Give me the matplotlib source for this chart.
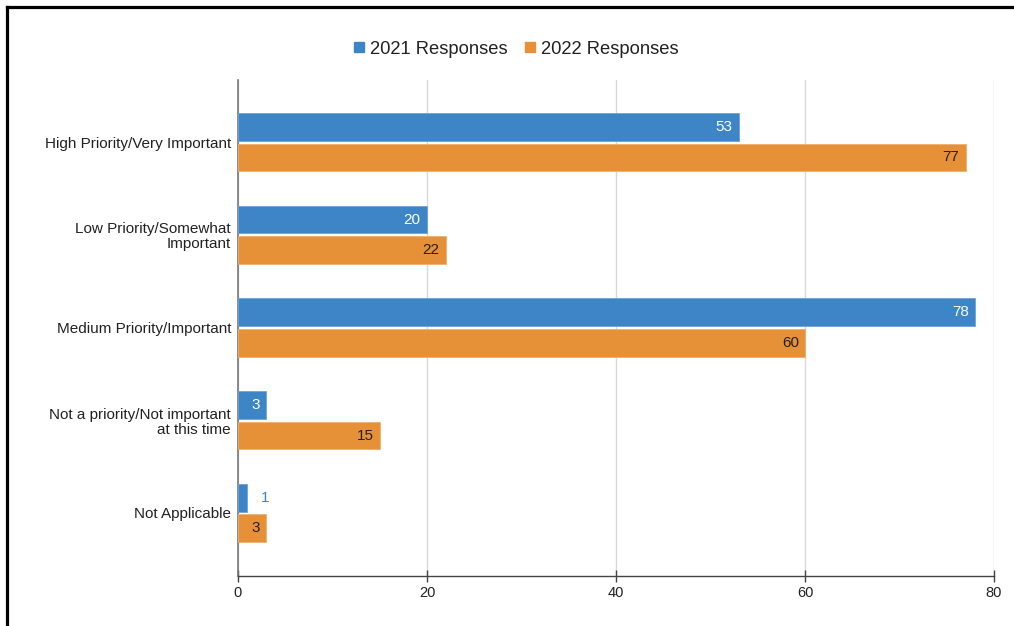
import matplotlib
matplotlib.use("Agg")
import matplotlib.pyplot as plt
from matplotlib.lines import Line2D
import numpy as np

categories = ["High Priority/Very Important",
              "Low Priority/Somewhat\nImportant",
              "Medium Priority/Important",
              "Not a priority/Not important\nat this time",
              "Not Applicable"]
series_names = ["2021 Responses", "2022 Responses"]
values_2021 = [53, 20, 78, 3, 1]
values_2022 = [77, 22, 60, 15, 3]
x_ticks = [0, 20, 40, 60, 80]

BLUE = "#3d85c6"
ORANGE = "#e69138"

plt.rcParams['font.family'] = ['Liberation Sans', 'DejaVu Sans']

W, H = 1014, 626
fig = plt.figure(figsize=(W / 100, H / 100), dpi=100)
ax = fig.add_axes([238 / W, 1 - 576 / H, (994 - 238) / W, (576 - 80) / H])

y = np.arange(len(categories))
off = 0.165
bh = 0.30
b1 = ax.barh(y - off, values_2021, height=bh, color=BLUE, edgecolor="#6fa3d6", linewidth=0.6, zorder=3)
b2 = ax.barh(y + off, values_2022, height=bh, color=ORANGE, edgecolor="#efb070", linewidth=0.6, zorder=3)

for rect, v in zip(b1, values_2021):
    yc = rect.get_y() + rect.get_height() / 2
    if v >= 3:
        ax.annotate(str(v), (v, yc), xytext=(-4.5, 0), textcoords="offset points",
                    ha="right", va="center", color="white", fontsize=11, zorder=4)
    else:
        ax.annotate(str(v), (v, yc), xytext=(10, 0), textcoords="offset points",
                    ha="left", va="center", color=BLUE, fontsize=11, zorder=4)
for rect, v in zip(b2, values_2022):
    yc = rect.get_y() + rect.get_height() / 2
    ax.annotate(str(v), (v, yc), xytext=(-4.5, 0), textcoords="offset points",
                ha="right", va="center", color="#222222", fontsize=11, zorder=4)

ax.set_xlim(0, 80)
ax.set_ylim(4.68, -0.67)
ax.set_xticks(x_ticks)
ax.set_xticklabels([str(t) for t in x_ticks], fontsize=10.5, color="#222222")
ax.set_yticks(y)
ax.set_yticklabels(categories, fontsize=11, color="#222222", linespacing=1.1, ha="right")
ax.tick_params(axis="y", length=0, pad=5)
ax.tick_params(axis="x", direction="inout", length=9, width=1, color="#444444", pad=3)
ax.grid(axis="x", color="#d9d9d9", linewidth=1, zorder=0)
ax.set_axisbelow(True)
for s in ["top", "right"]:
    ax.spines[s].set_visible(False)
ax.spines["left"].set_color("#777777")
ax.spines["left"].set_linewidth(1.2)
ax.spines["bottom"].set_color("#444444")
ax.spines["bottom"].set_linewidth(1)

handles = [Line2D([], [], marker="s", linestyle="none", color=BLUE, markersize=7),
           Line2D([], [], marker="s", linestyle="none", color=ORANGE, markersize=7)]
fig.legend(handles, series_names, loc="center", bbox_to_anchor=(515 / W, 1 - 49 / H),
           ncol=2, frameon=False, fontsize=13.2, handletextpad=0.2, columnspacing=0.8,
           handlelength=0.8, labelcolor="#222222")

# black frame (top and left edges)
fig.add_artist(Line2D([7 / W, 1], [1 - 7 / H, 1 - 7 / H], transform=fig.transFigure,
                      color="black", linewidth=2.3))
fig.add_artist(Line2D([7 / W, 7 / W], [0, 1 - 7 / H], transform=fig.transFigure,
                      color="black", linewidth=2.3))

fig.savefig("out.png", dpi=100)
